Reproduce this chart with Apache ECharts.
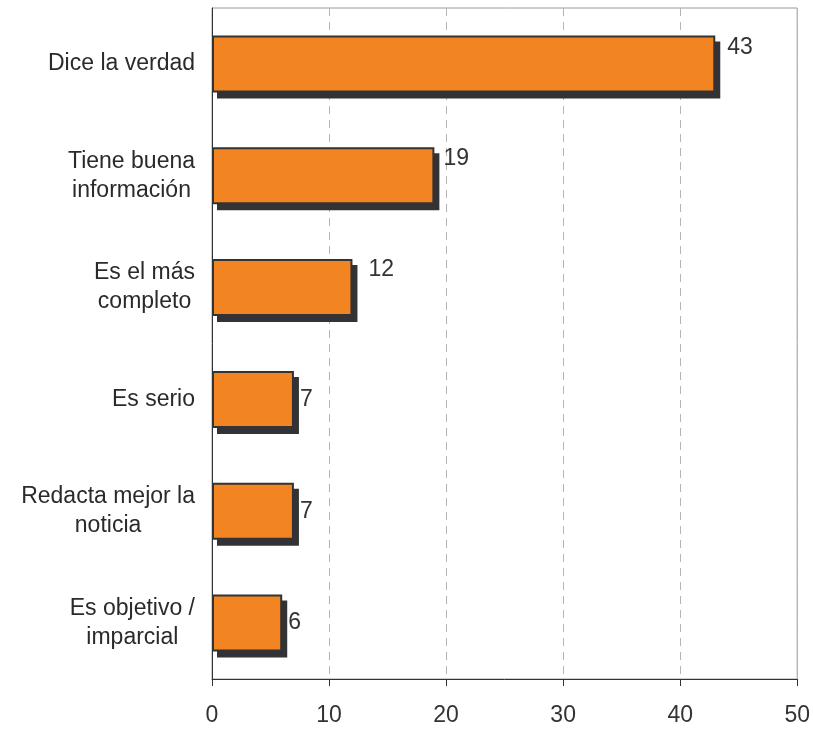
<!DOCTYPE html>
<html>
<head>
<meta charset="utf-8">
<script src="https://cdn.jsdelivr.net/npm/echarts@6/dist/echarts.min.js"></script>
<style>
  html, body { margin: 0; padding: 0; background: #fff; }
  #chart { width: 813px; height: 729px; }
</style>
</head>
<body>
<div id="chart"></div>
<script>
// values
const categories = [
  'Dice la verdad',
  'Tiene buena\ninformación',
  'Es el más\ncompleto',
  'Es serio',
  'Redacta mejor la\nnoticia',
  'Es objetivo /\nimparcial'
];
const values = [43, 19, 12, 7, 7, 6];
const xTicks = [0, 10, 20, 30, 40, 50];

// label nudges (style only)
const labelOffsets = [[6, -16], [3, -17], [10, -18], [0, 0], [0, 0], [0, 0]];

const FONT = '"Liberation Sans", Arial, Helvetica, sans-serif';
const BAR_RATIO = 0.51;

const chart = echarts.init(document.getElementById('chart'));

const option = {
  animation: false,
  textStyle: { fontFamily: FONT },
  grid: {
    left: 212, right: 12, top: 8, bottom: 50,
    show: true, borderColor: '#9a9a9a', borderWidth: 1
  },
  xAxis: {
    type: 'value',
    min: xTicks[0],
    max: xTicks[xTicks.length - 1],
    interval: 10,
    axisLine: { show: true, lineStyle: { color: '#333', width: 1 } },
    axisTick: { show: true, length: 7, lineStyle: { color: '#333' } },
    axisLabel: { color: '#333', fontSize: 23, margin: 25, fontFamily: FONT },
    splitLine: { show: true, lineStyle: { color: '#b5b5b5', type: [8, 6], width: 1 } }
  },
  yAxis: {
    type: 'category',
    data: categories,
    inverse: true,
    axisLine: { show: true, lineStyle: { color: '#333', width: 1 } },
    axisTick: { show: false },
    axisLabel: {
      margin: 17,
      formatter: v => v.split('\n').map(s => '{c|' + s + '}').join('\n'),
      rich: {
        c: { align: 'center', fontSize: 23, color: '#2a2a2a', lineHeight: 29, fontFamily: FONT }
      }
    }
  },
  series: [
    {
      // drop shadow behind each bar
      type: 'custom',
      z: 1,
      silent: true,
      data: values.map((v, i) => [v, i]),
      encode: { x: 0, y: 1 },
      renderItem: (params, api) => {
        const start = api.coord([0, api.value(1)]);
        const end = api.coord([api.value(0), api.value(1)]);
        const h = api.size([0, 1])[1] * BAR_RATIO;
        return {
          type: 'rect',
          shape: { x: start[0] + 5, y: start[1] - h / 2 + 6, width: end[0] - start[0], height: h },
          style: { fill: '#333336' }
        };
      }
    },
    {
      type: 'bar',
      z: 2,
      barWidth: (BAR_RATIO * 100) + '%',
      data: values.map((v, i) => ({
        value: v,
        label: { offset: labelOffsets[i] }
      })),
      itemStyle: {
        color: '#f28522',
        borderColor: '#333336',
        borderWidth: 2
      },
      label: {
        show: true,
        position: 'right',
        distance: 6,
        color: '#333',
        fontSize: 23,
        fontFamily: FONT
      }
    }
  ]
};

chart.setOption(option);
</script>
</body>
</html>
